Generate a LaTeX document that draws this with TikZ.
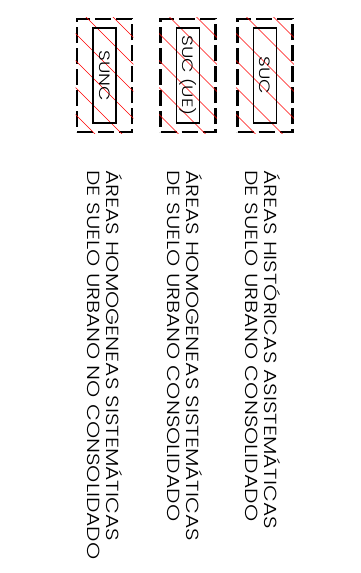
\documentclass[tikz,border=0pt]{standalone}
\usepackage{fontspec}
\setmainfont{Poppins Light}[FakeStretch=1.25]
\usetikzlibrary{positioning,calc}

\begin{document}
\begin{tikzpicture}[
  x=1pt, y=-1pt,
  zonestyle/.style={draw, line width=2.6pt, dash pattern=on 16pt off 5pt, minimum width=55pt, minimum height=113pt, inner sep=0pt},
  tagstyle/.style={draw, line width=1.2pt, rotate=-90, minimum width=95pt, minimum height=23pt, inner sep=0pt, font=\fontsize{15}{15}\selectfont},
  hatchstyle/.style={draw=red, line width=0.6pt},
  legendstyle/.style={rotate=-90, anchor=north west, align=left, inner sep=0pt, font=\fontsize{17.5}{19.5}\selectfont},
]
\useasboundingbox (0,0) rectangle (360,573);

% --- the three zones, hatched ---
\foreach \zn/\zx/\ztext in {sunc/104.5/SUNC, sucue/188/SUC (UE), suc/265/SUC} {
  \node[zonestyle] (\zn) at (\zx,75.5) {};
  \begin{scope}
    \clip (\zn.south west) rectangle (\zn.north east);
    \foreach \k in {0,...,6} {
      \draw[hatchstyle] ($(\zn.north west)+(-100,-138+27*\k)$) -- ++(300,300);
    }
  \end{scope}
  \node[tagstyle] (\zn tag) at (\zn) {\ztext};
}

% --- legend texts ---
\node[legendstyle] (legsunc) at (123,170)
  {ÁREAS HOMOGENEAS SISTEMÁTICAS\\DE SUELO URBANO NO CONSOLIDADO};
\node[legendstyle] (legsucue) at (203,170)
  {ÁREAS HOMOGENEAS SISTEMÁTICAS\\DE SUELO URBANO CONSOLIDADO};
\node[legendstyle] (legsuc) at (281,170)
  {ÁREAS HISTÓRICAS ASISTEMÁTICAS\\DE SUELO URBANO CONSOLIDADO};

\end{tikzpicture}
\end{document}
